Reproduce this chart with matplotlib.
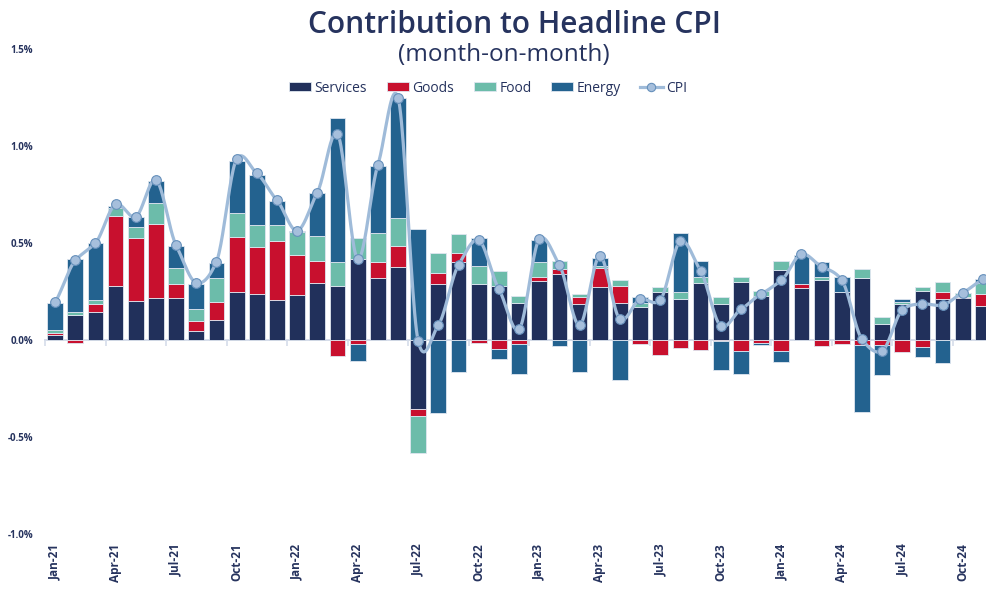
import numpy as np
import matplotlib
matplotlib.use("Agg")
import matplotlib.pyplot as plt
from matplotlib.patches import Patch
from matplotlib.lines import Line2D

plt.rcParams['font.family'] = ['Open Sans', 'DejaVu Sans']

months = ["Jan-21", "Feb-21", "Mar-21", "Apr-21", "May-21", "Jun-21", "Jul-21", "Aug-21", "Sep-21",
          "Oct-21", "Nov-21", "Dec-21", "Jan-22", "Feb-22", "Mar-22", "Apr-22", "May-22", "Jun-22",
          "Jul-22", "Aug-22", "Sep-22", "Oct-22", "Nov-22", "Dec-22", "Jan-23", "Feb-23", "Mar-23",
          "Apr-23", "May-23", "Jun-23", "Jul-23", "Aug-23", "Sep-23", "Oct-23", "Nov-23", "Dec-23",
          "Jan-24", "Feb-24", "Mar-24", "Apr-24", "May-24", "Jun-24", "Jul-24", "Aug-24", "Sep-24",
          "Oct-24", "Nov-24"]

services = [0.025, 0.13, 0.146, 0.28, 0.20, 0.218, 0.218, 0.048, 0.103, 0.249, 0.237, 0.206,
            0.232, 0.292, 0.28, 0.418, 0.318, 0.375, -0.357, 0.289, 0.404, 0.287, 0.28, 0.192,
            0.304, 0.34, 0.184, 0.275, 0.192, 0.168, 0.245, 0.21, 0.295, 0.184, 0.301, 0.227,
            0.361, 0.266, 0.309, 0.249, 0.321, 0.082, 0.186, 0.254, 0.211, 0.215, 0.175]
goods = [0.01, -0.015, 0.038, 0.36, 0.325, 0.378, 0.069, 0.048, 0.095, 0.28, 0.241, 0.303,
         0.205, 0.117, -0.08, -0.02, 0.086, 0.111, -0.035, 0.055, 0.043, -0.015, -0.045, -0.022,
         0.022, 0.024, 0.039, 0.094, 0.088, -0.02, -0.077, -0.043, -0.052, -0.005, -0.055, -0.015,
         -0.057, 0.023, -0.03, -0.02, -0.026, -0.026, -0.06, -0.038, 0.035, 0.008, 0.062]
food = [0.015, 0.015, 0.022, 0.04, 0.057, 0.112, 0.086, 0.062, 0.12, 0.127, 0.113, 0.082,
        0.118, 0.125, 0.124, 0.106, 0.149, 0.141, -0.189, 0.103, 0.1, 0.094, 0.075, 0.035,
        0.074, 0.045, 0.014, 0.01, 0.029, 0.021, 0.03, 0.035, 0.028, 0.039, 0.025, 0.026,
        0.048, 0.0, 0.014, 0.0, 0.045, 0.035, 0.012, 0.017, 0.051, 0.021, 0.055]
energy = [0.14, 0.275, 0.295, 0.01, 0.052, 0.113, 0.113, 0.131, 0.077, 0.268, 0.26, 0.125,
          0.009, 0.222, 0.74, -0.088, 0.344, 0.619, 0.57, -0.375, -0.167, 0.143, -0.055, -0.155,
          0.115, -0.03, -0.167, 0.045, -0.206, 0.034, 0.0, 0.308, 0.082, -0.151, -0.12, -0.012,
          -0.055, 0.149, 0.077, 0.077, -0.344, -0.155, 0.012, -0.048, -0.12, 0.0, 0.02]
cpi = [0.195, 0.41, 0.50, 0.70, 0.635, 0.825, 0.488, 0.294, 0.404, 0.933, 0.859, 0.72,
       0.563, 0.76, 1.063, 0.418, 0.902, 1.25, -0.005, 0.077, 0.387, 0.515, 0.262, 0.055,
       0.519, 0.387, 0.077, 0.432, 0.107, 0.21, 0.206, 0.51, 0.357, 0.072, 0.158, 0.237,
       0.307, 0.443, 0.378, 0.309, 0.004, -0.057, 0.155, 0.186, 0.18, 0.244, 0.313]

series_names = ["Services", "Goods", "Food", "Energy"]
series_vals = [services, goods, food, energy]
colors = ["#21305b", "#c8102e", "#6cbcaa", "#23628f"]

NAVY = "#26335e"
CPI_LINE = "#9fbbd9"
CPI_FACE = "#a6bfdc"
CPI_EDGE = "#6690bb"

fig = plt.figure(figsize=(9.87, 6.08), dpi=100)
ax = fig.add_axes([44/987, 1-534/608, 1-44/987, (534-49)/608])

x = np.arange(len(months))
pos_base = np.zeros(len(x))
neg_base = np.zeros(len(x))
for name, vals, c in zip(series_names, series_vals, colors):
    v = np.array(vals, dtype=float)
    base = np.where(v >= 0, pos_base, neg_base)
    ax.bar(x, v, bottom=base, width=0.78, color=c, edgecolor="#dfe6f0", linewidth=0.6, zorder=2)
    pos_base = pos_base + np.where(v >= 0, v, 0)
    neg_base = neg_base + np.where(v < 0, v, 0)

# smoothed CPI line (cubic Hermite through the points, softened tangents)
y = np.array(cpi, dtype=float)
xf = x.astype(float)
m = np.zeros_like(y)
m[1:-1] = (y[2:] - y[:-2]) / 2.0 * 0.75
m[0] = (y[1] - y[0]) * 0.75
m[-1] = (y[-1] - y[-2]) * 0.75
t = np.linspace(0, 1, 24)
h00 = 2*t**3 - 3*t**2 + 1
h10 = t**3 - 2*t**2 + t
h01 = -2*t**3 + 3*t**2
h11 = t**3 - t**2
xs, ys = [], []
for i in range(len(y) - 1):
    xs.extend(xf[i] + t)
    ys.extend(h00*y[i] + h10*m[i] + h01*y[i+1] + h11*m[i+1])
ax.plot(xs, ys, color=CPI_LINE, lw=2.3, zorder=3, solid_capstyle='round')
ax.plot(x, y, linestyle='none', marker='o', markersize=7, markerfacecolor=CPI_FACE,
        markeredgecolor=CPI_EDGE, markeredgewidth=0.8, zorder=4)

ax.axhline(0, color="#d5ddea", lw=1.4, zorder=1)

ax.set_xlim(-0.55, 46.2)
ax.set_ylim(-1.0, 1.5)
for s in ax.spines.values():
    s.set_visible(False)

ax.set_yticks([-1.0, -0.5, 0.0, 0.5, 1.0, 1.5])
ax.set_yticklabels([f"{v:.1f}%" for v in [-1.0, -0.5, 0.0, 0.5, 1.0, 1.5]])
ax.tick_params(axis='y', length=0, pad=8, labelsize=7, labelcolor=NAVY)
for lab in ax.get_yticklabels():
    lab.set_fontweight('bold')

ticks = list(range(0, len(months), 3))
ax.set_xticks(ticks)
ax.set_xticklabels([months[i] for i in ticks], rotation=90, fontweight='bold', fontsize=8.5, color=NAVY)
ax.tick_params(axis='x', length=0, pad=7)

sec = ax.secondary_xaxis(0.4)
sec.set_xticks(np.arange(-0.5, len(months), 3))
sec.set_xticklabels([])
sec.tick_params(axis='x', length=4, width=1.2, color="#d5ddea", direction='out')
sec.spines['bottom'].set_visible(False)

fig.text(514/987, 1-25/608, "Contribution to Headline CPI", ha='center', va='center',
         fontsize=21.5, fontweight='semibold', color=NAVY)
fig.text(504/987, 1-55/608, "(month-on-month)", ha='center', va='center',
         fontsize=17.5, color=NAVY)

handles = [Patch(facecolor=c, edgecolor="#dfe6f0", linewidth=0.6) for c in colors]
handles.append(Line2D([0], [0], color=CPI_LINE, lw=2.3, marker='o', markersize=6,
                      markerfacecolor=CPI_FACE, markeredgecolor=CPI_EDGE, markeredgewidth=0.8))
fig.legend(handles, series_names + ["CPI"], loc='center', bbox_to_anchor=(488/987, 1-88/608),
           ncol=5, frameon=False, fontsize=10, handlelength=1.6, handleheight=0.55,
           handletextpad=0.25, columnspacing=1.4, labelcolor=NAVY)

fig.savefig("out.png", dpi=100)
